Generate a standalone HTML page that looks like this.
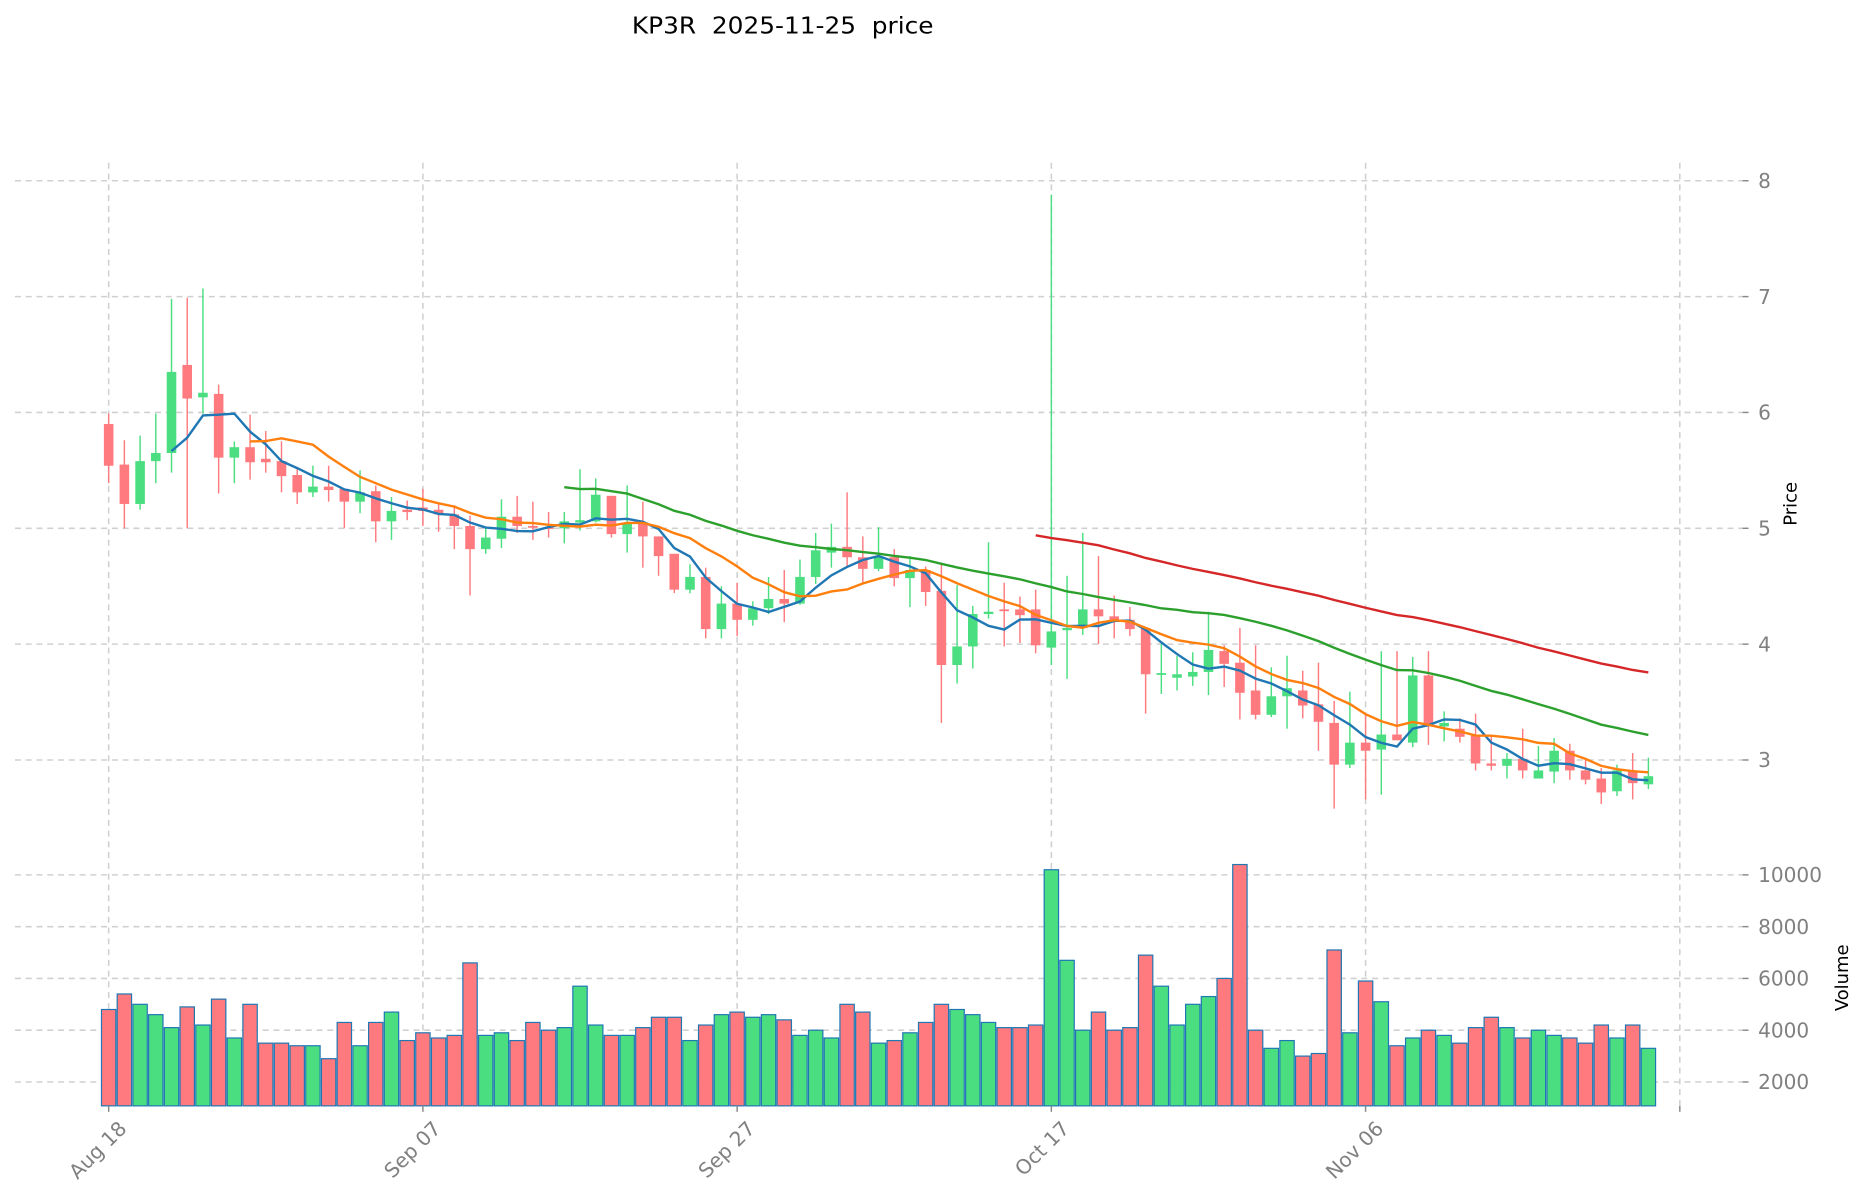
<!DOCTYPE html>
<html><head><meta charset="utf-8"><style>
html,body{margin:0;padding:0;background:#fff;}
svg{display:block;font-family:"DejaVu Sans","Liberation Sans",sans-serif;}
</style></head><body>
<svg id="chart" width="1867" height="1202" viewBox="0 0 1560 1004.3" xmlns="http://www.w3.org/2000/svg">
<text x="654" y="28" text-anchor="middle" font-size="19.5" fill="#000" style="white-space:pre" xml:space="preserve" textLength="252" lengthAdjust="spacingAndGlyphs">KP3R  2025-11-25  price</text>
<g id="grid"></g>
<g id="candles"></g>
<g id="mas"></g>
<g id="vol"></g>
<g id="axes"></g>
<text x="1501" y="421" font-size="15" text-anchor="middle" transform="rotate(-90 1501 421)">Price</text>
<text x="1544" y="817" font-size="15" text-anchor="middle" transform="rotate(-90 1544 817)">Volume</text>
</svg>
<script>
const opens=[5.90,5.55,5.21,5.58,5.65,6.41,6.13,6.16,5.61,5.70,5.60,5.58,5.46,5.31,5.36,5.34,5.23,5.32,5.06,5.16,5.18,5.16,5.12,5.02,4.82,4.91,5.10,5.02,5.01,5.00,5.05,5.06,5.28,4.95,5.04,4.93,4.78,4.47,4.58,4.13,4.35,4.21,4.31,4.39,4.35,4.58,4.79,4.84,4.75,4.65,4.75,4.57,4.64,4.46,3.82,3.98,4.26,4.30,4.30,4.30,3.97,4.12,4.14,4.30,4.24,4.21,4.14,3.74,3.71,3.72,3.76,3.94,3.84,3.60,3.39,3.55,3.60,3.48,3.32,2.96,3.15,3.09,3.22,3.15,3.73,3.29,3.27,3.21,2.97,2.95,3.01,2.84,2.90,3.08,2.91,2.84,2.73,2.91,2.79];
const highs=[5.99,5.76,5.80,5.99,6.98,6.99,7.07,6.24,5.75,5.98,5.84,5.75,5.53,5.54,5.54,5.34,5.50,5.37,5.27,5.24,5.34,5.21,5.20,5.11,5.00,5.25,5.28,5.23,5.14,5.14,5.51,5.43,5.28,5.37,5.23,4.93,4.78,4.69,4.66,4.50,4.53,4.37,4.58,4.64,4.73,4.96,5.04,5.31,4.93,5.01,4.82,4.76,4.67,4.69,4.51,4.33,4.88,4.53,4.41,4.47,7.88,4.59,4.96,4.76,4.42,4.32,4.14,4.00,3.90,3.93,4.28,3.99,4.14,3.99,3.80,3.90,3.77,3.84,3.51,3.59,3.39,3.94,3.94,3.89,3.94,3.42,3.36,3.40,3.21,3.06,3.27,3.12,3.19,3.14,3.00,2.93,2.96,3.06,3.02];
const lows=[5.39,5.00,5.16,5.39,5.48,5.00,5.99,5.30,5.39,5.42,5.48,5.31,5.21,5.27,5.23,5.00,5.13,4.88,4.90,5.07,5.02,4.97,4.82,4.42,4.78,4.83,4.96,4.90,4.92,4.87,4.98,5.05,4.92,4.79,4.66,4.59,4.44,4.44,4.05,4.05,4.07,4.16,4.26,4.19,4.34,4.52,4.66,4.66,4.53,4.63,4.50,4.32,4.33,3.32,3.66,3.79,4.22,3.98,4.01,3.92,3.82,3.70,4.08,4.00,4.05,4.07,3.40,3.57,3.60,3.64,3.56,3.63,3.35,3.35,3.37,3.27,3.36,3.08,2.58,2.93,2.66,2.70,3.17,3.11,3.13,3.16,3.15,2.91,2.91,2.84,2.84,2.84,2.80,2.83,2.79,2.62,2.69,2.66,2.75];
const closes=[5.54,5.21,5.58,5.65,6.35,6.12,6.17,5.61,5.70,5.57,5.57,5.45,5.31,5.36,5.33,5.23,5.31,5.06,5.15,5.14,5.15,5.12,5.02,4.82,4.92,5.10,5.02,5.01,5.00,5.06,5.07,5.29,4.95,5.04,4.93,4.76,4.47,4.58,4.13,4.35,4.21,4.31,4.39,4.35,4.58,4.81,4.84,4.75,4.65,4.75,4.57,4.64,4.45,3.82,3.98,4.26,4.28,4.29,4.25,3.99,4.11,4.14,4.30,4.24,4.21,4.13,3.74,3.75,3.74,3.76,3.95,3.83,3.58,3.39,3.55,3.62,3.47,3.33,2.96,3.15,3.08,3.22,3.17,3.73,3.31,3.32,3.20,2.97,2.95,3.01,2.91,2.91,3.08,2.91,2.83,2.72,2.91,2.80,2.86];
const volumes=[4800,5400,5000,4600,4100,4900,4200,5200,3700,5000,3500,3500,3400,3400,2900,4300,3400,4300,4700,3600,3900,3700,3800,6600,3800,3900,3600,4300,4000,4100,5700,4200,3800,3800,4100,4500,4500,3600,4200,4600,4700,4500,4600,4400,3800,4000,3700,5000,4700,3500,3600,3900,4300,5000,4800,4600,4300,4100,4100,4200,10200,6700,4000,4700,4000,4100,6900,5700,4200,5000,5300,6000,10400,4000,3300,3600,3000,3100,7100,3900,5900,5100,3400,3700,4000,3800,3500,4100,4500,4100,3700,4000,3800,3700,3500,4200,3700,4200,3300];
const dateLabels=["Aug 18","Sep 07","Sep 27","Oct 17","Nov 06",""];
const dateTickIdx=[0,20,40,60,80,100];
const priceTicks=[3,4,5,6,7,8];
const volTicks=[2000,4000,6000,8000,10000];
const maPeriods=[5,10,30,60];
const maColors=["#1f77b4","#ff7f0e","#2ca02c","#d62728"];

const NS="http://www.w3.org/2000/svg";
const X0=12.5,X1=1456;
const xs=i=>90.8+i*13.128;
const yp=p=>151+(8-p)*96.8;
const yv=v=>731+(10000-v)*0.02163;
const VB=924;
function mk(tag,attrs,parent){const e=document.createElementNS(NS,tag);for(const k in attrs)e.setAttribute(k,attrs[k]);parent.appendChild(e);return e;}
const G=document.getElementById('grid'),C=document.getElementById('candles'),M=document.getElementById('mas'),V=document.getElementById('vol'),A=document.getElementById('axes');
const GREEN="#4ade80",RED="#ff7a7e",GRID="#d0d0d0",TXT="#808080";

priceTicks.forEach(p=>{
  const l=mk('line',{x1:X0,x2:X1,y1:yp(p),y2:yp(p),stroke:GRID,'stroke-width':1.3,'stroke-dasharray':'5,4'},G);
  
  
  const t=mk('line',{x1:X1,x2:X1+5,y1:yp(p),y2:yp(p),stroke:'#888','stroke-width':1.2},A);
  
  
  const tx=mk('text',{x:1469,y:yp(p)+6,'font-size':16.8,fill:TXT},A);tx.textContent=p;
  
  
});
volTicks.forEach(v=>{
  const l=mk('line',{x1:X0,x2:X1,y1:yv(v),y2:yv(v),stroke:GRID,'stroke-width':1.3,'stroke-dasharray':'5,4'},G);
  
  
  const t=mk('line',{x1:X1,x2:X1+5,y1:yv(v),y2:yv(v),stroke:'#888','stroke-width':1.2},A);
  
  
  const tx=mk('text',{x:1469,y:yv(v)+6,'font-size':16.8,fill:TXT},A);tx.textContent=v;
  
  
});
dateTickIdx.forEach((d,k)=>{
  const x=xs(d);
  const l=mk('line',{x1:x,x2:x,y1:136,y2:VB,stroke:GRID,'stroke-width':1.3,'stroke-dasharray':'5,4'},G);
  
  
  const t=mk('line',{x1:x,x2:x,y1:VB,y2:VB+5,stroke:'#888','stroke-width':1.2},A);
  
  
  if(dateLabels[k]){
    const ax=x+16,ay=VB+20;
    const tx=mk('text',{x:ax,y:ay,'font-size':16.8,fill:TXT,'text-anchor':'end',transform:`rotate(-45 ${ax} ${ay})`},A);
    tx.textContent=dateLabels[k];
    
    
  }
});
for(let i=0;i<closes.length;i++){
  const up=closes[i]>=opens[i],col=up?GREEN:RED,x=xs(i);
  const w=mk('line',{x1:x,x2:x,y1:yp(highs[i]),y2:yp(lows[i]),stroke:col,'stroke-width':1.2},C);
  
  
  const top=yp(Math.max(opens[i],closes[i])),bot=yp(Math.min(opens[i],closes[i]));
  const b=mk('rect',{x:x-4,y:top,width:8,height:Math.max(bot-top,1.5),fill:col},C);
  
  
  const vt=yv(volumes[i]);
  const vb=mk('rect',{x:x-6,y:vt,width:12,height:VB-vt,fill:col,stroke:'#1f77b4','stroke-width':1},V);
  
  
}
maPeriods.forEach((n,k)=>{
  const pts=[];
  for(let i=n-1;i<closes.length;i++){let s=0;for(let j=i-n+1;j<=i;j++)s+=closes[j];pts.push(xs(i).toFixed(1)+','+yp(s/n).toFixed(1));}
  const pl=mk('polyline',{points:pts.join(' '),fill:'none',stroke:maColors[k],'stroke-width':2},M);
  
  
});
</script>
</body></html>
